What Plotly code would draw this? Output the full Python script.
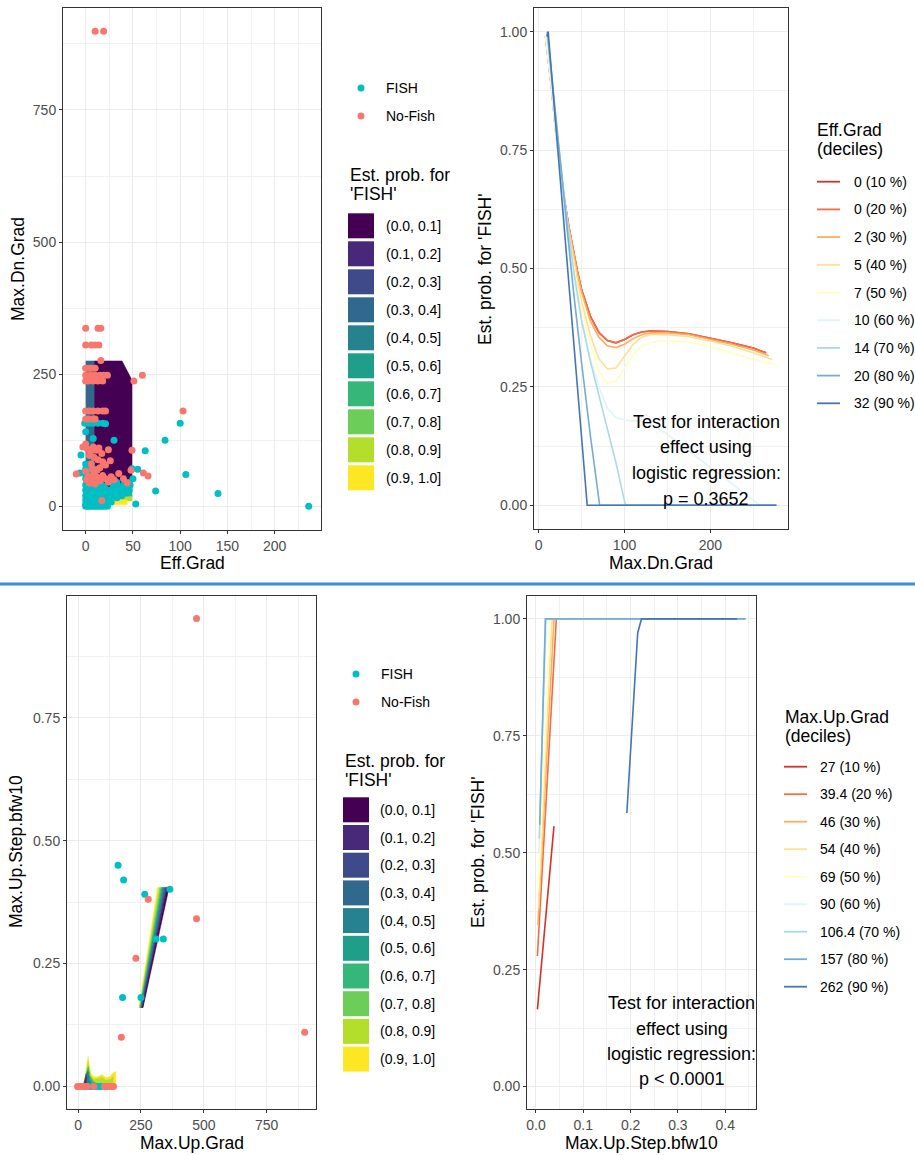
import plotly.graph_objects as go

W, H = 915, 1155
FONT = "Liberation Sans, Arial, sans-serif"

# ------------------------------------------------------------------ data
prob_labels = ["(0.0, 0.1]", "(0.1, 0.2]", "(0.2, 0.3]", "(0.3, 0.4]", "(0.4, 0.5]",
               "(0.5, 0.6]", "(0.6, 0.7]", "(0.7, 0.8]", "(0.8, 0.9]", "(0.9, 1.0]"]
viridis10 = ["#440154", "#482878", "#3E4A89", "#31688E", "#26828E",
             "#1F9E89", "#35B779", "#6DCD59", "#B4DE2C", "#FDE725"]
rdylbu9 = ["#D73027", "#F46D43", "#FDAE61", "#FEE090", "#FFFFBF",
           "#E0F3F8", "#ABD9E9", "#74ADD1", "#4575B4"]
FISH_COL, NOFISH_COL = "#00BFC4", "#F8766D"

# Panel A: Eff.Grad vs Max.Dn.Grad
fishA_x = [0, 2, 4, 6, 8, 10, 12, 14, 16, 18, 20, 23,
           0, 3, 7, 11, 15, 19,
           1, 5, 9, 13, 17, 23, 27,
           0, 4, 8, 12, 16, 20, 25,
           2, 6, 10, 14, 18, 22, 33,
           0, 4, 8, 12, 16, 20, 30, 38,
           1, 5, 9, 13, 17, 28, 36, 43,
           0, 4, 8, 12, 16, 24, 32, 40, 46,
           2, 6, 10, 14, 20, 29, 35, 44,
           0, 4, 8, 12, 17, 30, 40, 47,
           1, 5, 9, 33, 45,
           0, 4, 8, 14, 50,
           0, 3, 7, -6,
           0, 4, 10, 49, 55,
           0, 5, -5,
           8, 0, -1, 4, 8, 13, 18, 21, 100, 30, 84, 63, 106, 74, 53, 140, 236]
fishA_y = [0, 0, 0, 0, 0, 0, 0, 0, 0, 0, 0, 0,
           4, 4, 4, 4, 4, 4,
           8, 8, 8, 8, 8, 8, 8,
           12, 12, 12, 12, 12, 12, 12,
           16, 16, 16, 16, 16, 16, 16,
           20, 20, 20, 20, 20, 20, 20, 20,
           25, 25, 25, 25, 25, 25, 25, 25,
           30, 30, 30, 30, 30, 30, 30, 30, 30,
           35, 35, 35, 35, 35, 35, 35, 35,
           40, 40, 40, 40, 40, 40, 40, 40,
           45, 45, 45, 45, 45,
           52, 52, 52, 52, 52,
           60, 60, 60, 63,
           70, 70, 70, 71, 70,
           80, 80, 97,
           128, 141, 157, 157, 157, 157, 157, 156, 157, 125, 125, 105, 60, 29, 4, 24, 0]
nofishA_x = [10, 19,
             0, 13, 16,
             0, 6, 10, 14,
             16,
             0, 3, 6, 10,
             0, 5, 10, 15, 19, 23,
             51, 60,
             0, 3, 8, 13, 18,
             0, 4, 8, 13, 18, 21,
             103,
             0, 3, 8, 10,
             -3, 0, 2, 5, 8, 11, 14, 17, 4, 9, 24, 49,
             13, 18, 6, 21, 15, 26,
             -10, 0, 3, 6, 9, 12, 15, 18, 21, 24, 27, 30, 35, 40, 44, 48, 61, 66, 10, 4, 1, 7, 12,
             17]
nofishA_y = [899, 899,
             337, 337, 337,
             305, 305, 305, 305,
             276,
             261, 261, 261, 261,
             248, 248, 248, 248, 248, 248,
             237, 248,
             237, 237, 237, 237, 237,
             180, 180, 180, 180, 180, 180,
             180,
             165, 165, 165, 165,
             112, 118, 108, 104, 112, 106, 110, 100, 96, 92, 107, 106,
             88, 84, 80, 78, 73, 86,
             61, 66, 56, 50, 62, 55, 48, 58, 52, 46, 56, 50, 62, 52, 44, 68, 63, 57, 42, 44, 50, 70, 68,
             11]
# estimated-probability regions (class index into prob_labels)
regA_class = [3, 0, 1, 4, 6, 8, 9]
regA_x = [[0, 9, 9, 0],
          [9, 38.5, 48, 49, 49, 9],
          [9, 49, 49, 9],
          [0, 49, 49, 0],
          [0, 49, 49, 0],
          [5, 49, 49, 5],
          [24, 44, 44, 24]]
regA_y = [[275, 275, 34, 34],
          [275, 275, 242, 236, 42, 42],
          [42, 42, 34, 34],
          [34, 34, 26, 26],
          [26, 26, 18, 18],
          [18, 18, 10, 10],
          [12, 12, 3, 3]]

# Panel B: Max.Dn.Grad curves per Eff.Grad decile
decB_labels = ["0 (10 %)", "0 (20 %)", "2 (30 %)", "5 (40 %)", "7 (50 %)",
               "10 (60 %)", "14 (70 %)", "20 (80 %)", "32 (90 %)"]
curveB_x = [
    [8, 15, 20, 25, 30, 35, 40, 45, 50, 60, 70, 80, 90, 100, 110, 120, 130, 150, 175, 200, 225, 250, 265],
    [8, 15, 20, 25, 30, 35, 40, 45, 50, 60, 70, 80, 90, 100, 110, 120, 130, 150, 175, 200, 225, 250, 265],
    [8, 15, 20, 25, 30, 35, 40, 45, 50, 60, 70, 80, 90, 100, 110, 120, 130, 150, 175, 200, 225, 250, 268],
    [8, 15, 20, 25, 30, 35, 40, 45, 50, 60, 70, 80, 90, 100, 110, 120, 130, 150, 175, 200, 225, 250, 272],
    [8, 15, 20, 25, 30, 35, 40, 45, 50, 60, 70, 80, 90, 100, 110, 120, 130, 150, 175, 200, 225, 250, 276],
    [9, 15, 20, 25, 30, 35, 40, 45, 50, 60, 70, 80, 90, 100, 110, 120, 130, 150, 175, 200, 225, 250, 258, 277],
    [10, 15, 20, 25, 30, 35, 40, 45, 50, 60, 70, 80, 90, 101, 277],
    [10, 20, 30, 40, 50, 60, 71, 277],
    [9.5, 11, 20, 30, 40, 50, 56.5, 277]]
curveB_y = [
    [0.99, 0.88, 0.785, 0.71, 0.645, 0.59, 0.54, 0.495, 0.455, 0.40, 0.365, 0.348, 0.343, 0.35, 0.36, 0.366, 0.368, 0.367, 0.362, 0.353, 0.343, 0.332, 0.322],
    [0.99, 0.88, 0.785, 0.71, 0.645, 0.59, 0.54, 0.495, 0.455, 0.40, 0.365, 0.348, 0.343, 0.35, 0.36, 0.366, 0.368, 0.367, 0.362, 0.353, 0.343, 0.332, 0.322],
    [0.99, 0.88, 0.785, 0.71, 0.645, 0.588, 0.537, 0.49, 0.45, 0.39, 0.355, 0.337, 0.333, 0.34, 0.352, 0.36, 0.364, 0.364, 0.36, 0.35, 0.34, 0.328, 0.316],
    [0.99, 0.88, 0.785, 0.71, 0.64, 0.58, 0.525, 0.475, 0.43, 0.36, 0.31, 0.288, 0.29, 0.315, 0.34, 0.355, 0.36, 0.36, 0.356, 0.347, 0.336, 0.322, 0.308],
    [0.99, 0.88, 0.78, 0.70, 0.63, 0.565, 0.51, 0.46, 0.415, 0.34, 0.285, 0.258, 0.262, 0.29, 0.318, 0.336, 0.344, 0.348, 0.344, 0.335, 0.322, 0.308, 0.297],
    [0.99, 0.88, 0.78, 0.70, 0.62, 0.55, 0.49, 0.44, 0.39, 0.31, 0.25, 0.205, 0.185, 0.18, 0.179, 0.177, 0.172, 0.15, 0.115, 0.08, 0.045, 0.01, 0.0, 0.0],
    [1.0, 0.9, 0.81, 0.73, 0.65, 0.575, 0.505, 0.445, 0.39, 0.305, 0.235, 0.165, 0.09, 0.0, 0.0],
    [1.0, 0.82, 0.64, 0.46, 0.30, 0.15, 0.0, 0.0],
    [0.99, 1.0, 0.80, 0.58, 0.36, 0.14, 0.0, 0.0]]
noteB = ["Test for interaction", "effect using", "logistic regression:", "p = 0.3652"]

# Panel C: Max.Up.Grad vs Max.Up.Step.bfw10
fishC_x = [159, 181, 265, 365, 310, 339, 177, 250, 45, 52, 58, 66, 74, 82, 90]
fishC_y = [0.45, 0.42, 0.391, 0.401, 0.30, 0.30, 0.181, 0.181, 0, 0, 0, 0, 0, 0, 0]
nofishC_x = [471, 279, 230, 172, 471, 901, -2, 8, 18, 28, 36, 63, 105, 115, 125, 135, 141]
nofishC_y = [0.952, 0.381, 0.261, 0.10, 0.341, 0.11, 0, 0, 0, 0, 0, 0, 0, 0, 0, 0, 0]
# wedge of estimated probability (bands from high to low probability)
wedgeC_top_x = [316, 322, 327, 331, 335, 339, 343, 347, 351, 355, 362]
wedgeC_bot_x = [242, 244, 245.5, 247, 248.5, 250, 251.5, 253, 254.5, 256, 258]
wedgeC_top_y = 0.405
wedgeC_bot_y = 0.16
moundC_class = [9, 8, 6, 4, 1]
moundC_x = [[17, 28, 36, 40, 44, 52, 65, 80, 95, 110, 125, 140, 150, 150, 17],
            [20, 30, 37, 40, 43, 50, 65, 80, 95, 110, 125, 140, 140, 20],
            [22, 31, 37, 41, 47, 60, 75, 75, 22],
            [23, 31, 36, 40, 45, 55, 55, 23],
            [21, 27, 32, 34, 31, 21]]
moundC_y = [[0, 0.02, 0.048, 0.061, 0.045, 0.025, 0.019, 0.02, 0.024, 0.018, 0.019, 0.028, 0.03, 0, 0],
            [0, 0.018, 0.042, 0.052, 0.038, 0.02, 0.014, 0.016, 0.019, 0.013, 0.014, 0.02, 0, 0],
            [0, 0.016, 0.036, 0.04, 0.022, 0.01, 0.006, 0, 0],
            [0, 0.014, 0.03, 0.03, 0.014, 0.005, 0, 0],
            [0, 0.012, 0.026, 0.018, 0, 0]]

# Panel D: Max.Up.Step.bfw10 curves per Max.Up.Grad decile
decD_labels = ["27 (10 %)", "39.4 (20 %)", "46 (30 %)", "54 (40 %)", "69 (50 %)",
               "90 (60 %)", "106.4 (70 %)", "157 (80 %)", "262 (90 %)"]
curveD_x = [[0.003, 0.038],
            [0.003, 0.043],
            [0.004, 0.038],
            [0.005, 0.034],
            [0.005, 0.030],
            [0.006, 0.022],
            [0.007, 0.020, 0.443],
            [0.008, 0.020, 0.443],
            [0.192, 0.215, 0.223, 0.425]]
curveD_y = [[0.165, 0.557],
            [0.279, 1.0],
            [0.345, 1.0],
            [0.38, 1.0],
            [0.42, 1.0],
            [0.50, 1.0],
            [0.53, 1.0, 1.0],
            [0.56, 1.0, 1.0],
            [0.585, 0.97, 1.0, 1.0]]
noteD = ["Test for interaction", "effect using", "logistic regression:", "p < 0.0001"]


# ------------------------------------------------------------------ helpers
def X(px):
    return px / W


def Y(py):
    return 1 - py / H


def axis(dom, rng, dtick, mdtick, fmt, anchor):
    return dict(domain=dom, range=rng, dtick=dtick, tick0=0, tickformat=fmt, anchor=anchor,
                showgrid=True, gridcolor="#EBEBEB", gridwidth=1.1,
                minor=dict(dtick=mdtick, tick0=0, showgrid=True, gridcolor="#F0F0F0", gridwidth=0.6),
                showline=True, mirror=True, linecolor="#333333", linewidth=1,
                ticks="outside", ticklen=3, tickcolor="#333333", tickwidth=1,
                tickfont=dict(family=FONT, size=14, color="#4D4D4D"),
                zeroline=False, fixedrange=True)


def txt(s, px, py, size=14, color="black", xanchor="left", angle=0):
    return dict(text=s, x=X(px), y=Y(py), xref="paper", yref="paper", xanchor=xanchor,
                yanchor="middle", showarrow=False, textangle=angle,
                font=dict(family=FONT, size=size, color=color))


fig = go.Figure()


def poly(xs, ys, color, xa, ya):
    fig.add_trace(go.Scatter(x=xs, y=ys, fill="toself", fillcolor=color, mode="lines",
                             line=dict(width=0.5, color=color), hoverinfo="skip",
                             showlegend=False, xaxis=xa, yaxis=ya))


def pts(xs, ys, color, xa, ya):
    fig.add_trace(go.Scatter(x=xs, y=ys, mode="markers", marker=dict(size=7, color=color),
                             hoverinfo="x+y", showlegend=False, xaxis=xa, yaxis=ya))


# Panel A
for c, xs, ys in zip(regA_class, regA_x, regA_y):
    poly(xs, ys, viridis10[c], "x", "y")
pts(fishA_x, fishA_y, FISH_COL, "x", "y")
pts(nofishA_x, nofishA_y, NOFISH_COL, "x", "y")

# Panel B
for i in range(len(decB_labels)):
    fig.add_trace(go.Scatter(x=curveB_x[i], y=curveB_y[i], mode="lines",
                             line=dict(color=rdylbu9[i], width=1.6), name=decB_labels[i],
                             showlegend=False, xaxis="x2", yaxis="y2"))

# Panel C
for c, xs, ys in zip(moundC_class, moundC_x, moundC_y):
    poly(xs, ys, viridis10[c], "x3", "y3")
for i in range(len(wedgeC_top_x) - 1):
    xs = [wedgeC_bot_x[i], wedgeC_top_x[i], wedgeC_top_x[i + 1], wedgeC_bot_x[i + 1]]
    ys = [wedgeC_bot_y, wedgeC_top_y, wedgeC_top_y, wedgeC_bot_y]
    poly(xs, ys, viridis10[9 - i], "x3", "y3")
pts(fishC_x, fishC_y, FISH_COL, "x3", "y3")
pts(nofishC_x, nofishC_y, NOFISH_COL, "x3", "y3")

# Panel D
for i in range(len(decD_labels)):
    fig.add_trace(go.Scatter(x=curveD_x[i], y=curveD_y[i], mode="lines",
                             line=dict(color=rdylbu9[i], width=1.6), name=decD_labels[i],
                             showlegend=False, xaxis="x4", yaxis="y4"))

# ------------------------------------------------------------------ layout
fig.update_layout(
    width=W, height=H, margin=dict(l=0, r=0, t=0, b=0),
    paper_bgcolor="white", plot_bgcolor="white", showlegend=False,
    xaxis=axis([X(63), X(321)], [-24, 249], 50, 25, "", "y"),
    yaxis=axis([Y(530), Y(8)], [-45, 943], 250, 125, "", "x"),
    xaxis2=axis([X(534), X(788)], [-5.5, 290.5], 100, 50, "", "y2"),
    yaxis2=axis([Y(529), Y(8)], [-0.05, 1.05], 0.25, 0.125, ".2f", "x2"),
    xaxis3=axis([X(67), X(316)], [-44, 946], 250, 125, "", "y3"),
    yaxis3=axis([Y(1109), Y(596)], [-0.046, 0.998], 0.25, 0.125, ".2f", "x3"),
    xaxis4=axis([X(527), X(756)], [-0.019, 0.465], 0.1, 0.05, ".1f", "y4"),
    yaxis4=axis([Y(1109), Y(596)], [-0.048, 1.049], 0.25, 0.125, ".2f", "x4"),
)

shapes = []
ann = []

# separator
shapes.append(dict(type="line", xref="paper", yref="paper", x0=0, x1=1, y0=Y(584), y1=Y(584),
                   line=dict(color="#3A8FD8", width=3)))

# axis titles
ann += [txt("Eff.Grad", 192, 563, 17.5, xanchor="center"),
        txt("Max.Dn.Grad", 18, 269, 17.5, xanchor="center", angle=-90),
        txt("Max.Dn.Grad", 661, 563, 17.5, xanchor="center"),
        txt("Est. prob. for 'FISH'", 485, 269, 17.5, xanchor="center", angle=-90),
        txt("Max.Up.Grad", 191.5, 1143, 17.5, xanchor="center"),
        txt("Max.Up.Step.bfw10", 16, 852, 17.5, xanchor="center", angle=-90),
        txt("Max.Up.Step.bfw10", 641.5, 1143, 17.5, xanchor="center"),
        txt("Est. prob. for 'FISH'", 478, 852, 17.5, xanchor="center", angle=-90)]

# interaction notes
for k, s in enumerate(noteB):
    ann.append(txt(s, 706, 421.7 + 25.7 * k, 18, xanchor="center"))
for k, s in enumerate(noteD):
    ann.append(txt(s, 681.5, 1003.3 + 25.3 * k, 18, xanchor="center"))


def point_legend(cx, cy0, tx):
    for k, (lab, col) in enumerate([("FISH", FISH_COL), ("No-Fish", NOFISH_COL)]):
        cy = cy0 + 28 * k
        shapes.append(dict(type="circle", xref="paper", yref="paper",
                           x0=X(cx - 3.5), x1=X(cx + 3.5), y0=Y(cy + 3.5), y1=Y(cy - 3.5),
                           fillcolor=col, line=dict(width=0)))
        ann.append(txt(lab, tx, cy, 14))


def box_legend(bx, ty, top, pitch, tx):
    ann.append(txt("Est. prob. for", bx, ty, 17.5))
    ann.append(txt("'FISH'", bx, ty + 19, 17.5))
    for k, lab in enumerate(prob_labels):
        t = top + pitch * k
        shapes.append(dict(type="rect", xref="paper", yref="paper",
                           x0=X(bx), x1=X(bx + 26), y0=Y(t + 25), y1=Y(t),
                           fillcolor=viridis10[k], line=dict(width=0)))
        ann.append(txt(lab, tx, t + 12.5, 14))


def line_legend(title, labels, tx0, ty, lx0, lx1, top, pitch, tx):
    ann.append(txt(title, tx0, ty, 17.5))
    ann.append(txt("(deciles)", tx0, ty + 19, 17.5))
    for k, lab in enumerate(labels):
        cy = top + pitch * k
        shapes.append(dict(type="line", xref="paper", yref="paper", x0=X(lx0), x1=X(lx1),
                           y0=Y(cy), y1=Y(cy), line=dict(color=rdylbu9[k], width=1.8)))
        ann.append(txt(lab, tx, cy, 14))


point_legend(361, 88, 384)
box_legend(348, 175, 213.3, 28, 384)
point_legend(356, 674, 379)
box_legend(343, 761, 797.3, 27.7, 378)
line_legend("Eff.Grad", decB_labels, 815, 130, 817, 840, 181.7, 27.7, 851.5)
line_legend("Max.Up.Grad", decD_labels, 782.5, 716.5, 784, 807, 766.7, 27.5, 818.3)

fig.update_layout(shapes=shapes, annotations=ann)
fig.write_html("out.html")
